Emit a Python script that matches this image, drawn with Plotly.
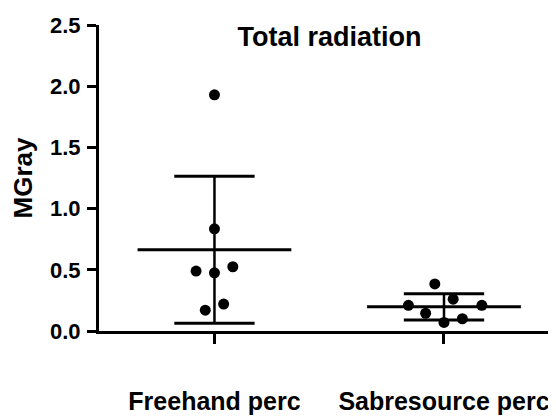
import numpy as np
import plotly.graph_objects as go

# ---- data ----
categories = ["Freehand perc", "Sabresource perc"]
freehand_values = [1.93, 0.835, 0.525, 0.49, 0.475, 0.22, 0.17]
sabresource_values = [0.385, 0.26, 0.21, 0.21, 0.145, 0.07, 0.10]
y_tick_values = [0.0, 0.5, 1.0, 1.5, 2.0, 2.5]
y_tick_labels = ["0.0", "0.5", "1.0", "1.5", "2.0", "2.5"]

# scatter (jitter) offsets of the points around each category centre
freehand_offsets = [0.0, 0.0, 0.08, -0.08, 0.0, 0.04, -0.04]
sabresource_offsets = [-0.04, 0.04, -0.155, 0.165, -0.08, 0.0, 0.08]

series = [freehand_values, sabresource_values]
offsets = [freehand_offsets, sabresource_offsets]

FONT = "Arial, 'Liberation Sans', Helvetica, sans-serif"
MEAN_HALF = 0.335
CAP_HALF = 0.175

# page has an 8px body margin, so the figure is 8px smaller than the window
W, H = 548, 409

fig = go.Figure()

for i, (vals, offs) in enumerate(zip(series, offsets)):
    v = np.array(vals)
    mean = v.mean()
    sd = v.std(ddof=1)
    # mean line
    fig.add_trace(go.Scatter(x=[i - MEAN_HALF, i + MEAN_HALF], y=[mean, mean], mode="lines",
                             line=dict(color="black", width=3), hoverinfo="skip", showlegend=False,
                             cliponaxis=False))
    # vertical SD line
    fig.add_trace(go.Scatter(x=[i, i], y=[mean - sd, mean + sd], mode="lines",
                             line=dict(color="black", width=2.5), hoverinfo="skip", showlegend=False))
    # caps
    for yv in (mean - sd, mean + sd):
        fig.add_trace(go.Scatter(x=[i - CAP_HALF, i + CAP_HALF], y=[yv, yv], mode="lines",
                                 line=dict(color="black", width=3), hoverinfo="skip", showlegend=False))
    # points
    fig.add_trace(go.Scatter(x=[i + o for o in offs], y=vals, mode="markers",
                             marker=dict(color="black", size=11, line=dict(width=0)),
                             name=categories[i], showlegend=False, cliponaxis=False))

fig.update_layout(
    width=W, height=H,
    margin=dict(l=91, r=0, t=17, b=86, autoexpand=False),
    paper_bgcolor="white", plot_bgcolor="white",
    font=dict(family=FONT, color="black", weight="bold"),
    showlegend=False,
    title=dict(text="Total radiation", font=dict(family=FONT, size=27, color="black", weight="bold"),
               x=321.5 / W, xanchor="center", xref="container",
               y=1 - 29 / H, yanchor="middle", yref="container"),
    xaxis=dict(range=[-0.503, 1.488], tickmode="array", tickvals=[0, 1], ticktext=categories,
               ticks="outside", ticklen=10, tickwidth=3, tickcolor="black",
               showline=True, linewidth=3, linecolor="black",
               showgrid=False, zeroline=False, ticklabelstandoff=36,
               tickfont=dict(family=FONT, size=25, color="black", weight="bold"),
               fixedrange=True),
    yaxis=dict(range=[0, 2.5], tickmode="array", tickvals=y_tick_values, ticktext=y_tick_labels,
               ticks="outside", ticklen=9, tickwidth=3, tickcolor="black",
               showline=True, linewidth=3, linecolor="black",
               showgrid=False, zeroline=False, ticklabelstandoff=2,
               tickfont=dict(family=FONT, size=22, color="black", weight="bold"),
               title=dict(text="MGray", standoff=20,
                          font=dict(family=FONT, size=26, color="black", weight="bold")),
               fixedrange=True),
)

fig.write_html("out.html")
